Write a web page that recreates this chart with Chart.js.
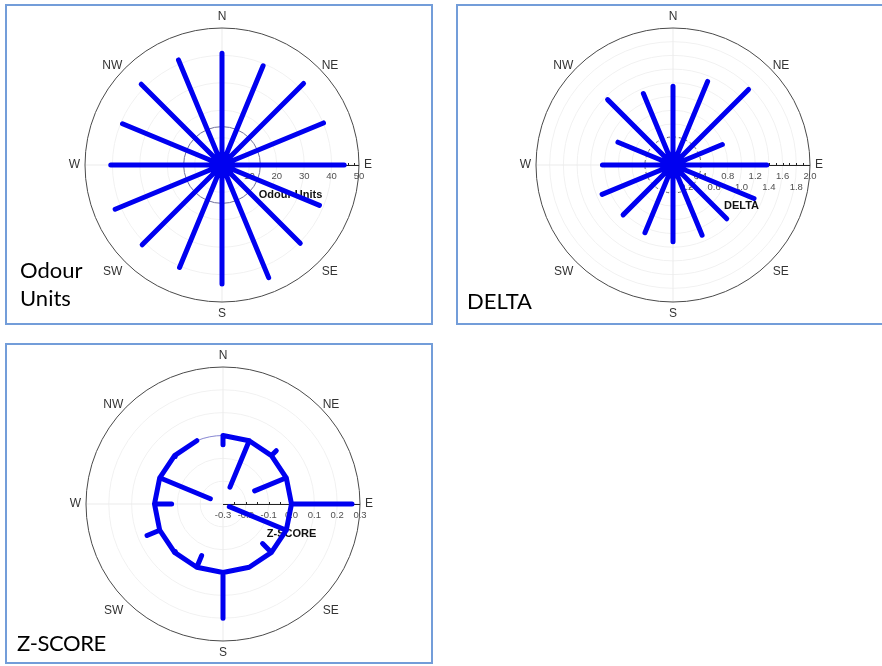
<!DOCTYPE html>
<html>
<head>
<meta charset="utf-8">
<title>Directional roses</title>
<script src="https://cdn.jsdelivr.net/npm/chart.js@4/dist/chart.umd.min.js"></script>
<style>
  html, body { margin: 0; padding: 0; background: #fff; }
  body { position: relative; width: 882px; height: 666px; overflow: hidden; }
  .panel { position: absolute; box-sizing: border-box; border: 2px solid #739dd9; background: #fff; }
  canvas { position: absolute; }
  .caption { position: absolute; font-family: Lato, "Open Sans", sans-serif; font-size: 22px; color: #000; line-height: 28px; white-space: nowrap; }
</style>
</head>
<body>
<div class="panel" style="left:5px;top:4px;width:428px;height:321px"></div>
<div class="panel" style="left:456px;top:4px;width:428px;height:321px"></div>
<div class="panel" style="left:5px;top:343px;width:428px;height:321px"></div>

<canvas id="odourChart" width="424" height="317" style="left:7px;top:6px"></canvas>
<canvas id="deltaChart" width="424" height="317" style="left:458px;top:6px"></canvas>
<canvas id="zChart" width="424" height="317" style="left:7px;top:345px"></canvas>

<div class="caption" style="left:20px;top:256px">Odour<br>Units</div>
<div class="caption" style="left:467px;top:287px">DELTA</div>
<div class="caption" style="left:17px;top:629px;letter-spacing:-0.4px">Z-SCORE</div>

<script>
// 16 compass sectors, clockwise from north
const directions = ['N', 'NNE', 'NE', 'ENE', 'E', 'ESE', 'SE', 'SSE',
                    'S', 'SSW', 'SW', 'WSW', 'W', 'WNW', 'NW', 'NNW'];
const compassLabels = ['N', 'NE', 'E', 'SE', 'S', 'SW', 'W', 'NW'];

// Sector values
const odourUnits = [40.8, 39.2, 42.1, 40.1, 44.6, 38.5, 40.4, 44.5,
                    43.4, 40.5, 41.2, 42.2, 40.6, 39.3, 41.7, 41.5];
const deltaValues = [1.15, 1.32, 1.56, 0.78, 1.37, 1.28, 1.11, 1.11,
                     1.12, 1.07, 1.03, 1.12, 1.03, 0.87, 1.35, 1.13];
const zScores = [-0.04, -0.22, 0.03, -0.15, 0.265, -0.27, -0.055, 0.0,
                 0.2, -0.055, -0.005, 0.06, -0.075, -0.24, -0.005, 0.0];

// Radial tick labels
const odourTicks = [0, 10, 20, 30, 40, 50];
const deltaTicksUpper = [0.0, 0.4, 0.8, 1.2, 1.6, 2.0];
const deltaTicksLower = [0.2, 0.6, 1.0, 1.4, 1.8];
const zTicks = [-0.3, -0.2, -0.1, 0.0, 0.1, 0.2, 0.3];

// Reference rings
const odourRing = 14;
const deltaRing = 0.41;
const zRing = 0;

const SPOKE_BLUE = '#0000f0';
const AXIS_FONT = '"Liberation Sans", Arial, sans-serif';

// Each sector is drawn from the zero value out to its value and back,
// then on to the next sector's zero point (one continuous polar line).
function spokePath(values, rMin) {
  const pts = [];
  const n = values.length;
  values.forEach((v, i) => {
    const th = i * 2 * Math.PI / n;
    const rb = 0 - rMin, rt = v - rMin;
    const base = { x: rb * Math.sin(th), y: rb * Math.cos(th) };
    pts.push(base, { x: rt * Math.sin(th), y: rt * Math.cos(th) }, { x: base.x, y: base.y });
  });
  return pts;
}

const polarFrame = {
  id: 'polarFrame',
  beforeDatasetsDraw(chart, args, o) {
    const { ctx } = chart;
    const xs = chart.scales.x, ys = chart.scales.y;
    const cx = xs.getPixelForValue(0), cy = ys.getPixelForValue(0);
    const rPx = v => xs.getPixelForValue(v - o.rMin) - cx;
    const R = rPx(o.rMax);
    ctx.save();

    // faint grid rings
    ctx.strokeStyle = '#f1f1f1';
    ctx.lineWidth = 1;
    o.grid.forEach(g => {
      ctx.beginPath();
      ctx.arc(cx, cy, rPx(g), 0, 2 * Math.PI);
      ctx.stroke();
    });
    // faint N-S / E-W lines
    ctx.strokeStyle = '#ebebeb';
    ctx.beginPath();
    ctx.moveTo(cx - R, cy); ctx.lineTo(cx + R, cy);
    ctx.moveTo(cx, cy - R); ctx.lineTo(cx, cy + R);
    ctx.stroke();

    // reference ring
    ctx.strokeStyle = o.ringColor;
    ctx.setLineDash(o.ringDash);
    ctx.beginPath();
    ctx.arc(cx, cy, rPx(o.ring), 0, 2 * Math.PI);
    ctx.stroke();
    ctx.setLineDash([]);

    // outer circle
    ctx.strokeStyle = '#4a4a4a';
    ctx.beginPath();
    ctx.arc(cx, cy, R, 0, 2 * Math.PI);
    ctx.stroke();

    // radial axis along east with minor ticks
    ctx.strokeStyle = '#222';
    ctx.beginPath();
    ctx.moveTo(cx, cy + 0.5); ctx.lineTo(cx + R, cy + 0.5);
    const nMinor = Math.round((o.rMax - o.rMin) / o.minorStep);
    for (let k = 1; k < nMinor; k++) {
      const px = Math.round(cx + rPx(o.rMin + k * o.minorStep)) + 0.5;
      ctx.moveTo(px, cy + 0.5); ctx.lineTo(px, cy - 2);
    }
    ctx.stroke();

    // radial tick labels
    ctx.fillStyle = '#505050';
    ctx.font = '9.5px ' + AXIS_FONT;
    ctx.textAlign = 'center';
    ctx.textBaseline = 'middle';
    o.tickRows.forEach((row, ri) => {
      row.forEach(t => {
        ctx.fillText(o.fmt(t), cx + rPx(t), cy + 11 + ri * 11.5);
      });
    });

    // axis title
    ctx.fillStyle = '#111';
    ctx.font = 'bold 11px ' + AXIS_FONT;
    ctx.fillText(o.title, cx + R / 2, cy + 18 + o.tickRows.length * 11.5);

    // compass labels
    ctx.fillStyle = '#333';
    ctx.font = '12px ' + AXIS_FONT;
    compassLabels.forEach((lab, i) => {
      const th = i * Math.PI / 4;
      const s = Math.sin(th), c = Math.cos(th);
      let x, y;
      if (lab.length === 1) {
        if (lab === 'N' || lab === 'S') {
          ctx.textAlign = 'center';
          x = cx; y = cy - c * (R + 11.5);
        } else {
          ctx.textAlign = s > 0 ? 'left' : 'right';
          x = cx + s * (R + 5); y = cy;
        }
        ctx.textBaseline = 'middle';
      } else {
        ctx.textAlign = s > 0 ? 'left' : 'right';
        ctx.textBaseline = c > 0 ? 'middle' : 'top';
        x = cx + s * (R + 4);
        y = cy - c * (R + 4) + (c > 0 ? 0 : 1);
      }
      ctx.fillText(lab, x, y);
    });
    ctx.restore();
  }
};

function makeRose(id, values, cfg) {
  const span = cfg.rMax - cfg.rMin;
  return new Chart(document.getElementById(id), {
    type: 'scatter',
    data: {
      datasets: [{
        data: spokePath(values, cfg.rMin),
        showLine: true,
        borderColor: SPOKE_BLUE,
        borderWidth: 5,
        borderCapStyle: 'round',
        borderJoinStyle: 'round',
        pointRadius: 0,
        tension: 0,
        clip: false
      }]
    },
    options: {
      responsive: false,
      animation: false,
      events: [],
      layout: { padding: cfg.padding },
      scales: {
        x: { type: 'linear', min: -span, max: span, display: false },
        y: { type: 'linear', min: -span, max: span, display: false }
      },
      plugins: {
        legend: { display: false },
        tooltip: { enabled: false },
        polarFrame: cfg
      }
    },
    plugins: [polarFrame]
  });
}

makeRose('odourChart', odourUnits, {
  rMin: 0, rMax: 50, minorStep: 2,
  grid: [10, 20, 30, 40],
  ring: odourRing, ringColor: '#70709a', ringDash: [],
  tickRows: [odourTicks],
  fmt: t => String(t),
  title: 'Odour Units',
  padding: { left: 78, right: 72, top: 22, bottom: 21 }
});

makeRose('deltaChart', deltaValues, {
  rMin: 0, rMax: 2.0, minorStep: 0.1,
  grid: [0.2, 0.4, 0.6, 0.8, 1.0, 1.2, 1.4, 1.6, 1.8],
  ring: deltaRing, ringColor: '#6a6a6a', ringDash: [3, 3],
  tickRows: [deltaTicksUpper, deltaTicksLower],
  fmt: t => t.toFixed(1),
  title: 'DELTA',
  padding: { left: 78, right: 72, top: 22, bottom: 21 }
});

makeRose('zChart', zScores, {
  rMin: -0.3, rMax: 0.3, minorStep: 0.05,
  grid: [-0.2, -0.1, 0.0, 0.1, 0.2],
  ring: zRing, ringColor: '#8a8ad6', ringDash: [],
  tickRows: [zTicks],
  fmt: t => t.toFixed(1),
  title: 'Z-SCORE',
  padding: { left: 79, right: 71, top: 22, bottom: 21 }
});
</script>
</body>
</html>
